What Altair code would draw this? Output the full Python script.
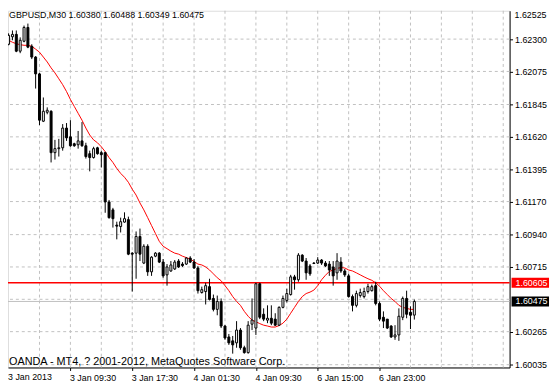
import altair as alt
import pandas as pd

# ---------------- data ----------------
opens = [1.62264, 1.62316, 1.62333, 1.62216, 1.62285, 1.62381, 1.62250, 1.62175, 1.62058, 1.61729,
         1.61791, 1.61798, 1.61510, 1.61538, 1.61544, 1.61681, 1.61620, 1.61572, 1.61565, 1.61592,
         1.61558, 1.61503, 1.61476, 1.61544, 1.61510, 1.61510, 1.61167, 1.61112, 1.61006, 1.60996,
         1.61027, 1.61044, 1.60811, 1.60811, 1.60927, 1.60742, 1.60859, 1.60681, 1.60790, 1.60811,
         1.60749, 1.60660, 1.60687, 1.60701, 1.60756, 1.60735, 1.60735, 1.60777, 1.60749, 1.60708,
         1.60537, 1.60544, 1.60578, 1.60496, 1.60420, 1.60475, 1.60304, 1.60228, 1.60201, 1.60187,
         1.60276, 1.60153, 1.60119, 1.60317, 1.60290, 1.60598, 1.60386, 1.60345, 1.60358, 1.60352,
         1.60310, 1.60434, 1.60482, 1.60523, 1.60646, 1.60626, 1.60797, 1.60756, 1.60722, 1.60742,
         1.60742, 1.60763, 1.60742, 1.60735, 1.60715, 1.60674, 1.60749, 1.60687, 1.60653, 1.60509,
         1.60448, 1.60516, 1.60509, 1.60544, 1.60550, 1.60585, 1.60461, 1.60365, 1.60352, 1.60304,
         1.60228, 1.60242, 1.60365, 1.60496, 1.60400, 1.60380]
highs = [1.62340, 1.62360, 1.62360, 1.62312, 1.62394, 1.62408, 1.62264, 1.62182, 1.62065, 1.61894,
         1.61825, 1.61805, 1.61599, 1.61606, 1.61709, 1.61716, 1.61736, 1.61579, 1.61661, 1.61723,
         1.61579, 1.61524, 1.61551, 1.61551, 1.61524, 1.61517, 1.61181, 1.61126, 1.61030, 1.61058,
         1.61095, 1.61065, 1.60818, 1.60962, 1.60982, 1.60873, 1.60873, 1.60790, 1.60818, 1.60818,
         1.60770, 1.60735, 1.60756, 1.60763, 1.60770, 1.60749, 1.60783, 1.60790, 1.60770, 1.60722,
         1.60578, 1.60605, 1.60633, 1.60523, 1.60516, 1.60496, 1.60310, 1.60249, 1.60235, 1.60338,
         1.60290, 1.60167, 1.60338, 1.60496, 1.60605, 1.60605, 1.60427, 1.60448, 1.60448, 1.60393,
         1.60441, 1.60516, 1.60564, 1.60660, 1.60660, 1.60811, 1.60804, 1.60777, 1.60735, 1.60749,
         1.60783, 1.60770, 1.60756, 1.60756, 1.60756, 1.60811, 1.60783, 1.60701, 1.60667, 1.60523,
         1.60550, 1.60564, 1.60571, 1.60598, 1.60592, 1.60612, 1.60475, 1.60406, 1.60352, 1.60310,
         1.60310, 1.60427, 1.60509, 1.60550, 1.60441, 1.60488]
lows = [1.62257, 1.62292, 1.62209, 1.62202, 1.62278, 1.62237, 1.62161, 1.61956, 1.61702, 1.61723,
        1.61777, 1.61442, 1.61462, 1.61483, 1.61524, 1.61592, 1.61551, 1.61551, 1.61538, 1.61551,
        1.61469, 1.61380, 1.61469, 1.61496, 1.61407, 1.61092, 1.61051, 1.60989, 1.60907, 1.60955,
        1.61023, 1.60797, 1.60544, 1.60633, 1.60756, 1.60735, 1.60653, 1.60653, 1.60783, 1.60742,
        1.60640, 1.60585, 1.60681, 1.60694, 1.60708, 1.60715, 1.60729, 1.60742, 1.60701, 1.60530,
        1.60530, 1.60454, 1.60482, 1.60406, 1.60379, 1.60290, 1.60208, 1.60173, 1.60112, 1.60153,
        1.60139, 1.60112, 1.60112, 1.60276, 1.60242, 1.60352, 1.60338, 1.60324, 1.60310, 1.60304,
        1.60304, 1.60427, 1.60468, 1.60516, 1.60557, 1.60612, 1.60749, 1.60626, 1.60653, 1.60735,
        1.60735, 1.60729, 1.60715, 1.60653, 1.60585, 1.60626, 1.60674, 1.60646, 1.60502, 1.60406,
        1.60434, 1.60502, 1.60496, 1.60530, 1.60544, 1.60448, 1.60338, 1.60290, 1.60283, 1.60221,
        1.60208, 1.60201, 1.60345, 1.60358, 1.60283, 1.60349]
closes = [1.62326, 1.62333, 1.62216, 1.62292, 1.62381, 1.62244, 1.62175, 1.62058, 1.61736, 1.61798,
          1.61805, 1.61510, 1.61538, 1.61544, 1.61681, 1.61613, 1.61558, 1.61558, 1.61592, 1.61558,
          1.61483, 1.61476, 1.61538, 1.61503, 1.61496, 1.61167, 1.61058, 1.61051, 1.60999, 1.61030,
          1.61051, 1.60804, 1.60804, 1.60927, 1.60804, 1.60859, 1.60681, 1.60783, 1.60811, 1.60749,
          1.60653, 1.60715, 1.60729, 1.60749, 1.60715, 1.60725, 1.60777, 1.60749, 1.60708, 1.60550,
          1.60557, 1.60585, 1.60489, 1.60420, 1.60475, 1.60304, 1.60221, 1.60187, 1.60173, 1.60276,
          1.60153, 1.60119, 1.60310, 1.60345, 1.60598, 1.60365, 1.60352, 1.60358, 1.60324, 1.60310,
          1.60434, 1.60496, 1.60530, 1.60646, 1.60626, 1.60797, 1.60756, 1.60674, 1.60667, 1.60739,
          1.60763, 1.60742, 1.60722, 1.60694, 1.60653, 1.60756, 1.60687, 1.60660, 1.60509, 1.60448,
          1.60530, 1.60537, 1.60544, 1.60578, 1.60578, 1.60461, 1.60352, 1.60338, 1.60290, 1.60228,
          1.60242, 1.60372, 1.60496, 1.60386, 1.60379, 1.60475]
ma_values = [1.62292, 1.62278, 1.62268, 1.62261, 1.62257, 1.62257, 1.62250, 1.62230, 1.62209, 1.62175,
             1.62141, 1.62100, 1.62065, 1.62024, 1.61983, 1.61935, 1.61880, 1.61832, 1.61784, 1.61736,
             1.61681, 1.61633, 1.61599, 1.61579, 1.61551, 1.61517, 1.61476, 1.61442, 1.61400, 1.61366,
             1.61339, 1.61304, 1.61256, 1.61215, 1.61160, 1.61112, 1.61058, 1.61003, 1.60948, 1.60893,
             1.60859, 1.60842, 1.60825, 1.60811, 1.60804, 1.60790, 1.60780, 1.60770, 1.60753, 1.60735,
             1.60729, 1.60715, 1.60694, 1.60667, 1.60640, 1.60619, 1.60585, 1.60550, 1.60509, 1.60475,
             1.60448, 1.60406, 1.60372, 1.60345, 1.60334, 1.60321, 1.60310, 1.60304, 1.60297, 1.60297,
             1.60307, 1.60324, 1.60352, 1.60393, 1.60434, 1.60475, 1.60509, 1.60530, 1.60540, 1.60554,
             1.60585, 1.60626, 1.60657, 1.60684, 1.60694, 1.60705, 1.60711, 1.60708, 1.60694, 1.60687,
             1.60674, 1.60660, 1.60646, 1.60633, 1.60622, 1.60605, 1.60581, 1.60550, 1.60523, 1.60496,
             1.60475, 1.60448, 1.60434, 1.60427, 1.60420, 1.60420]

x_tick_bars = [16, 32, 48, 64, 80, 96]
x_tick_labels = ["3 Jan 09:30", "3 Jan 17:30", "4 Jan 01:30", "4 Jan 09:30", "6 Jan 15:00", "6 Jan 23:00"]
first_x_label = "3 Jan 2013"
y_tick_values = [1.62300, 1.62075, 1.61845, 1.61620, 1.61395, 1.61170, 1.60940, 1.60715, 1.60265, 1.60035]
top_y_label = "1.62525"
grid_prices = [1.62300, 1.62075, 1.61845, 1.61620, 1.61395, 1.61170, 1.60940, 1.60715, 1.60490, 1.60265, 1.60035]
grid_bars = [8, 16, 24, 32, 40, 48, 56, 64, 72, 80, 88, 96, 104, 112, 120, 128]
level_price = 1.60605
bid_price = 1.60475
title_text = "GBPUSD,M30  1.60380 1.60488 1.60349 1.60475"
copyright_text = "OANDA - MT4, ? 2001-2012, MetaQuotes Software Corp."

# ---------------- tables ----------------
n = len(opens)
candles = pd.DataFrame({"bar": list(range(n)), "open": opens, "high": highs,
                        "low": lows, "close": closes, "ma": ma_values})

PLOT_W, PLOT_H = 509, 362
FONT = "Liberation Sans"
xs = alt.Scale(domain=[1.125, 128.375], nice=False, zero=False)
ys = alt.Scale(domain=[1.6001565, 1.624972], nice=False, zero=False)

label_expr = " : ".join(f"datum.value == {b} ? '{t}'" for b, t in zip(x_tick_bars, x_tick_labels)) + " : ''"

x_axis = alt.Axis(values=x_tick_bars, labelExpr=label_expr, grid=False, tickSize=3,
                  tickColor="black", domainColor="black", labelAlign="left", labelOffset=-1,
                  labelBaseline="alphabetic", labelPadding=10, labelFontSize=9, labelFont=FONT,
                  labelColor="black", labelFlush=False, labelOverlap=False, title=None)
y_axis = alt.Axis(orient="right", values=y_tick_values, format=".5f", grid=False, tickSize=3,
                  tickColor="black", domainColor="black", labelPadding=2, labelFontSize=9,
                  labelFont=FONT, labelColor="black", labelFlush=False, labelOverlap=False, title=None)


def X(field):
    return alt.X(field, scale=xs, axis=x_axis)


def Y(field):
    return alt.Y(field, scale=ys, axis=y_axis)


GRID = "#c0c0c0"

hgrid = alt.Chart(pd.DataFrame({"p": grid_prices})).mark_rule(
    color=GRID, strokeDash=[3, 3], strokeWidth=1).encode(y=Y("p:Q"))
vgrid = alt.Chart(pd.DataFrame({"b": grid_bars})).mark_rule(
    color=GRID, strokeDash=[3, 3], strokeWidth=1).encode(x=X("b:Q"))

bid_line = alt.Chart(pd.DataFrame({"p": [bid_price]})).mark_rule(
    color=GRID, strokeWidth=1).encode(y=Y("p:Q"))
level_line = alt.Chart(pd.DataFrame({"p": [level_price]})).mark_rule(
    color="#ff0000", strokeWidth=1.5).encode(y=Y("p:Q"))

ma_line = alt.Chart(candles).mark_line(color="#ff0000", strokeWidth=1).encode(
    x=X("bar:Q"), y=Y("ma:Q"))

wicks = alt.Chart(candles).mark_rule(color="black", strokeWidth=1).encode(
    x=X("bar:Q"), y=Y("low:Q"), y2="high:Q")

bodies = alt.Chart(candles).mark_bar(width=2, stroke="black", strokeWidth=1).encode(
    x=X("bar:Q"), y=Y("open:Q"), y2="close:Q",
    fill=alt.condition("datum.close >= datum.open", alt.value("white"), alt.value("black")))

title_mark = alt.Chart(pd.DataFrame({"t": [title_text]})).mark_text(
    align="left", baseline="alphabetic", fontSize=9, font=FONT, color="black").encode(
    text="t:N", x=alt.value(1), y=alt.value(7))
copy_mark = alt.Chart(pd.DataFrame({"t": [copyright_text]})).mark_text(
    align="left", baseline="alphabetic", fontSize=11, font=FONT, color="black").encode(
    text="t:N", x=alt.value(1), y=alt.value(359))
first_label_mark = alt.Chart(pd.DataFrame({"t": [first_x_label]})).mark_text(
    align="left", baseline="alphabetic", fontSize=9, font=FONT, color="black").encode(
    text="t:N", x=alt.value(0), y=alt.value(PLOT_H + 13))
top_label_mark = alt.Chart(pd.DataFrame({"t": [top_y_label]})).mark_text(
    align="left", baseline="top", fontSize=9, font=FONT, color="black").encode(
    text="t:N", x=alt.value(PLOT_W + 5), y=alt.value(0))

levels = pd.DataFrame({"p": [level_price, bid_price],
                       "box": ["#ff0000", "#000000"],
                       "label": [f"{level_price:.5f}", f"{bid_price:.5f}"]})
levels["lo"] = levels["p"] - 0.00035
levels["hi"] = levels["p"] + 0.00035
boxes = alt.Chart(levels).mark_rect().encode(
    x=alt.value(PLOT_W + 2), x2=alt.value(PLOT_W + 40),
    y=Y("lo:Q"), y2="hi:Q",
    color=alt.Color("box:N", scale=None, legend=None))
box_text = alt.Chart(levels).mark_text(
    align="left", baseline="middle", fontSize=9, font=FONT, color="white").encode(
    x=alt.value(PLOT_W + 6), y=Y("p:Q"), text="label:N")

chart = alt.layer(
    hgrid, vgrid, bid_line, level_line, ma_line, wicks, bodies,
    title_mark, copy_mark, first_label_mark, top_label_mark, boxes, box_text
).properties(
    width=PLOT_W, height=PLOT_H,
    padding={"left": 0, "top": 0, "right": 41, "bottom": 17},
    autosize=alt.AutoSizeParams(type="none"),
    background="white",
).configure_view(stroke="black", strokeWidth=1).configure(font=FONT)

chart.save("out.html", embed_options={"renderer": "svg", "actions": False})
